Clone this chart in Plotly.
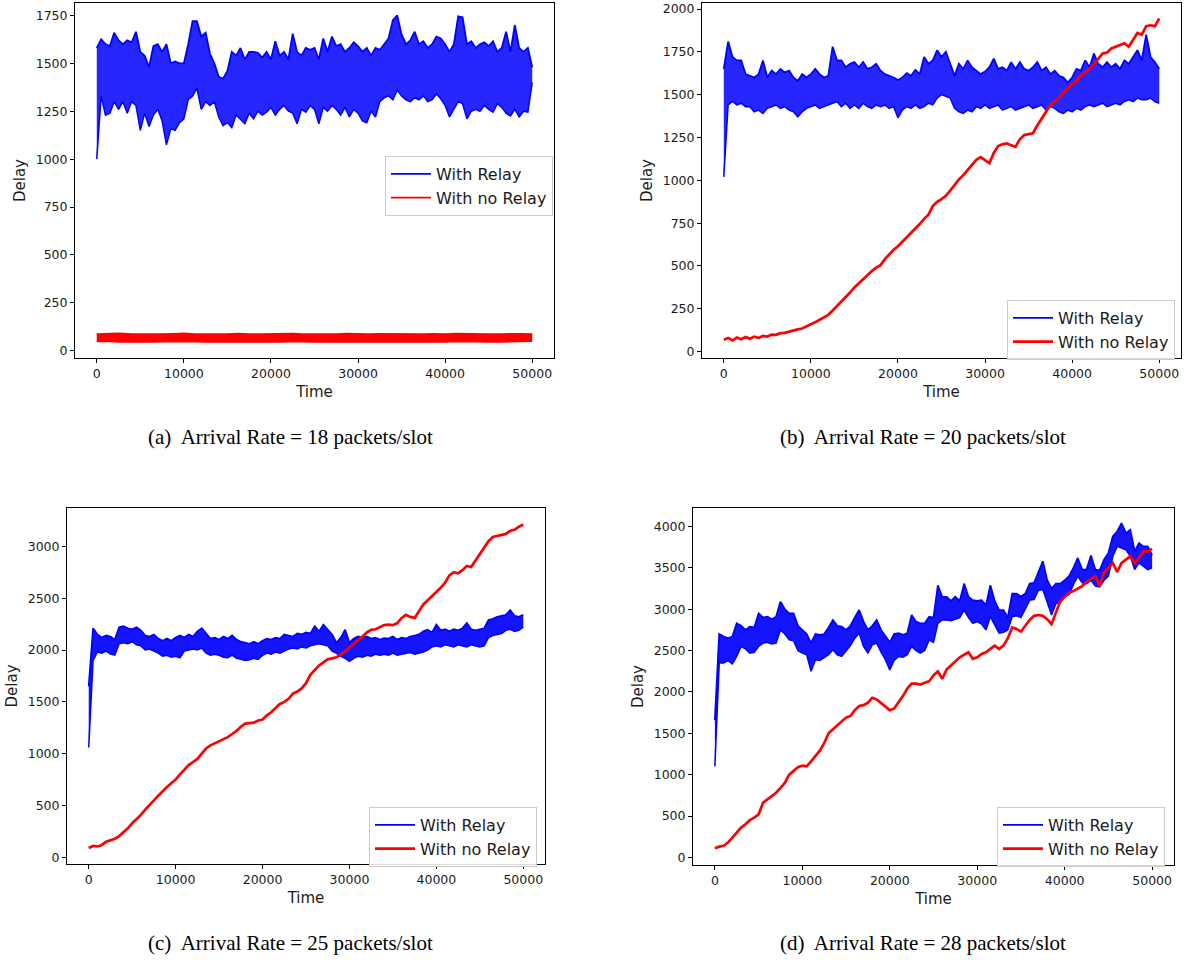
import numpy as np
import plotly.graph_objects as go

# ---------------- data ----------------
T_MAX = 50000
LEGEND_NAMES = ["With Relay", "With no Relay"]
CAPTIONS = ["(a)&nbsp; Arrival Rate = 18 packets/slot",
            "(b)&nbsp; Arrival Rate = 20 packets/slot",
            "(c)&nbsp; Arrival Rate = 25 packets/slot",
            "(d)&nbsp; Arrival Rate = 28 packets/slot"]
X_TICKS = [0, 10000, 20000, 30000, 40000, 50000]
Y_TICKS_A = [0, 250, 500, 750, 1000, 1250, 1500, 1750]
Y_TICKS_B = [0, 250, 500, 750, 1000, 1250, 1500, 1750, 2000]
Y_TICKS_C = [0, 500, 1000, 1500, 2000, 2500, 3000]
Y_TICKS_D = [0, 500, 1000, 1500, 2000, 2500, 3000, 3500, 4000]

# "With Relay": upper / lower envelope of the noisy trace, one value every 500 slots
relay_a_hi = [1580, 1625, 1600, 1590, 1660, 1620, 1600, 1620, 1610, 1665,
              1560, 1540, 1480, 1590, 1600, 1560, 1600, 1500, 1510, 1500,
              1500, 1600, 1720, 1720, 1640, 1660, 1550, 1500, 1430, 1420,
              1460, 1560, 1540, 1580, 1520, 1560, 1560, 1555, 1530, 1560,
              1520, 1615, 1540, 1560, 1520, 1655, 1560, 1540, 1580, 1570,
              1580, 1520, 1630, 1560, 1640, 1590, 1600, 1560, 1580, 1610,
              1590, 1560, 1580, 1540, 1580, 1570, 1600, 1630, 1725, 1750,
              1650, 1600, 1620, 1665, 1600, 1615, 1580, 1600, 1640, 1630,
              1600, 1560, 1600, 1745, 1740, 1600, 1615, 1580, 1600, 1610,
              1590, 1615, 1560, 1580, 1665, 1560, 1700, 1580, 1560, 1580,
              1480]
relay_a_lo = [1000, 1330, 1230, 1240, 1300, 1260, 1300, 1240, 1300, 1280,
              1150, 1240, 1170, 1230, 1260, 1200, 1075, 1160, 1150, 1190,
              1210, 1310, 1330, 1370, 1260, 1300, 1280, 1300, 1220, 1175,
              1190, 1165, 1230, 1210, 1185, 1240, 1210, 1250, 1230, 1245,
              1270, 1230, 1260, 1280, 1250, 1240, 1185, 1260, 1245, 1280,
              1260, 1185, 1270, 1250, 1280, 1260, 1230, 1270, 1220, 1260,
              1240, 1200, 1190, 1250, 1220, 1300, 1320, 1330, 1310, 1360,
              1330, 1310, 1300, 1320, 1310, 1330, 1300, 1310, 1340, 1315,
              1280, 1220, 1260, 1300, 1290, 1210, 1250, 1260, 1250, 1280,
              1260, 1245, 1290, 1270, 1240, 1225, 1260, 1220, 1250, 1245,
              1400]

relay_b_hi = [1650, 1810, 1720, 1700, 1700, 1620, 1610, 1600, 1620, 1700,
              1600, 1640, 1620, 1650, 1630, 1640, 1600, 1580, 1620, 1600,
              1620, 1650, 1620, 1600, 1610, 1780, 1700, 1700, 1660, 1680,
              1690, 1660, 1690, 1650, 1660, 1680, 1640, 1620, 1610, 1600,
              1585, 1600, 1625, 1610, 1645, 1620, 1720, 1680, 1700, 1760,
              1720, 1750, 1680, 1610, 1680, 1650, 1700, 1660, 1640, 1620,
              1635, 1660, 1710, 1650, 1660, 1640, 1690, 1650, 1690, 1650,
              1640, 1660, 1690, 1640, 1660, 1620, 1640, 1610, 1600, 1570,
              1600, 1650, 1640, 1700, 1660, 1740, 1680, 1660, 1690, 1660,
              1680, 1650, 1700, 1680, 1720, 1760, 1700, 1850, 1720, 1690,
              1650]
relay_b_lo = [1020, 1440, 1460, 1440, 1450, 1430, 1430, 1400, 1410, 1390,
              1420, 1430, 1440, 1420, 1430, 1410, 1400, 1370, 1400, 1420,
              1430, 1440, 1420, 1430, 1440, 1450, 1460, 1430, 1450, 1420,
              1440, 1420, 1450, 1430, 1420, 1440, 1430, 1440, 1420, 1430,
              1365, 1410, 1430, 1420, 1440, 1420, 1430, 1450, 1440, 1480,
              1500, 1490, 1480, 1420, 1400, 1390, 1410, 1400, 1430, 1420,
              1440, 1420, 1430, 1440, 1410, 1420, 1430, 1410, 1420, 1430,
              1440, 1420, 1430, 1440, 1410, 1430, 1420, 1400, 1390, 1410,
              1400, 1420, 1410, 1430, 1440, 1430, 1440, 1450, 1430, 1440,
              1450, 1440, 1460, 1470, 1460, 1480, 1470, 1470, 1480, 1460,
              1450]

relay_c_hi = [1650, 2210, 2150, 2120, 2140, 2130, 2100, 2220, 2230, 2210,
              2200, 2220, 2190, 2140, 2130, 2150, 2110, 2090, 2110, 2090,
              2120, 2140, 2120, 2150, 2130, 2180, 2210, 2160, 2110, 2120,
              2100, 2130, 2110, 2140, 2100, 2080, 2070, 2060, 2080, 2060,
              2090, 2110, 2100, 2120, 2110, 2150, 2140, 2130, 2160, 2150,
              2170, 2160, 2230, 2180, 2245, 2200, 2150, 2070, 2120, 2195,
              2070, 2110, 2130, 2120, 2130, 2110, 2120, 2100, 2115, 2110,
              2130, 2100, 2120, 2110, 2130, 2140, 2150, 2180, 2195, 2170,
              2245, 2190, 2200, 2180, 2200, 2190, 2210, 2260, 2200, 2190,
              2200, 2210, 2290, 2300, 2320, 2330, 2340, 2385, 2330, 2320,
              2340]
relay_c_lo = [1060, 1900, 1980, 1970, 1990, 1960, 1950, 2060, 2070, 2060,
              2080, 2050, 2040, 2000, 2010, 1990, 1970, 1940, 1950, 1930,
              1940, 1925, 1990, 2000, 2010, 2000, 2020, 1970, 1950, 1960,
              1950, 1930, 1925, 1950, 1920, 1910, 1900, 1905, 1920, 1910,
              1950, 1970, 1960, 1980, 1970, 1990, 2010, 2020, 2010, 2030,
              2020, 2040, 2050, 2060, 2050, 2040, 1990, 1970, 1940, 1920,
              1890, 1920, 1940, 1930, 1950, 1940, 1960, 1950, 1960, 1950,
              1970, 1950, 1960, 1970, 1975, 1960, 1970, 1980, 2000, 2030,
              2040, 2030, 2050, 2040, 2030, 2050, 2040, 2030, 2050, 2040,
              2030, 2040, 2120, 2140, 2150, 2160, 2190, 2200, 2180, 2190,
              2220]

relay_d_hi = [1660, 2700, 2670, 2650, 2670, 2830, 2800, 2750, 2790, 2780,
              2950, 2900, 2910, 2880, 2910, 3090, 3000, 2950, 2950, 2800,
              2750, 2700, 2590, 2700, 2690, 2700, 2780, 2870, 2800, 2790,
              2750, 2800, 2900, 2990, 2850, 2750, 2800, 2870, 2750, 2670,
              2600, 2700, 2710, 2690, 2710, 2930, 2850, 2830, 2830, 2910,
              2900, 3290, 3150, 3150, 3100, 3150, 3100, 3310, 3150, 3110,
              3100, 3110, 3050, 3290, 3100, 2990, 2990, 2900, 3190, 3190,
              3150, 3190, 3310, 3320, 3450, 3580, 3350, 3250, 3310, 3310,
              3350, 3400, 3500, 3620, 3480, 3480, 3650, 3480, 3470, 3600,
              3680, 3880, 3940, 4040, 3920, 3960, 3700, 3800, 3760, 3760,
              3650]
relay_d_lo = [1100, 2350, 2350, 2380, 2340, 2430, 2550, 2520, 2470, 2480,
              2550, 2590, 2600, 2580, 2590, 2750, 2700, 2630, 2620, 2500,
              2470, 2450, 2250, 2390, 2380, 2420, 2450, 2510, 2450, 2430,
              2500, 2560, 2650, 2710, 2550, 2470, 2570, 2590, 2480, 2390,
              2265, 2380, 2430, 2420, 2450, 2550, 2500, 2470, 2500, 2630,
              2600, 2830, 2870, 2870, 2860, 2880, 2900, 2990, 2900, 2830,
              2850, 2820, 2750, 2910, 2800, 2710, 2720, 2750, 2910, 2920,
              2900, 3000, 3110, 3120, 3230, 3240, 3070, 2930, 3070, 3080,
              3150, 3180, 3300, 3400, 3320, 3310, 3350, 3280, 3270, 3350,
              3400, 3640, 3760, 3740, 3720, 3640, 3480, 3560, 3520, 3480,
              3500]

# "With no Relay", panel (a): upper / lower edge of the thin noisy band (every 1250 slots)
norelay_a_hi = [86, 88, 90, 88, 87, 89, 86, 88, 90, 87, 86, 88, 87, 89, 86, 87, 88, 86, 89, 87,
                86, 88, 87, 89, 87, 86, 88, 87, 89, 86, 87, 88, 86, 89, 87, 88, 86, 87, 89, 88,
                86]
norelay_a_lo = [48, 50, 46, 48, 47, 45, 47, 46, 48, 47, 45, 47, 46, 48, 45, 46, 47, 45, 48, 46,
                45, 47, 46, 48, 46, 45, 47, 46, 48, 45, 46, 47, 45, 48, 46, 47, 45, 46, 48, 47,
                50]

# "With no Relay", panels (b)-(d): one value every 500 slots
norelay_b = [70, 80, 65, 82, 72, 85, 75, 88, 80, 92,
             88, 100, 98, 108, 110, 118, 122, 130, 135, 150,
             160, 172, 185, 200, 215, 240, 265, 295, 320, 345,
             375, 400, 425, 450, 470, 490, 505, 540, 570, 595,
             615, 640, 665, 690, 715, 745, 775, 800, 850, 875,
             890, 910, 940, 975, 1005, 1030, 1060, 1095, 1120, 1135,
             1120, 1100, 1160, 1200, 1210, 1215, 1205, 1195, 1240, 1265,
             1270, 1275, 1320, 1360, 1400, 1440, 1460, 1480, 1510, 1540,
             1560, 1580, 1610, 1630, 1650, 1680, 1710, 1740, 1745, 1770,
             1780, 1790, 1800, 1780, 1820, 1860, 1850, 1900, 1905, 1900,
             1945]

norelay_c = [90, 110, 105, 120, 150, 165, 180, 205, 240, 280,
             330, 370, 410, 460, 510, 550, 595, 640, 680, 715,
             750, 800, 850, 890, 920, 950, 1000, 1050, 1080, 1100,
             1120, 1140, 1160, 1190, 1220, 1260, 1290, 1295, 1300, 1320,
             1330, 1370, 1400, 1440, 1480, 1500, 1530, 1580, 1600, 1630,
             1680, 1760, 1810, 1850, 1880, 1910, 1920, 1930, 1955, 1990,
             2020, 2060, 2090, 2130, 2170, 2195, 2200, 2220, 2240, 2245,
             2240, 2260, 2310, 2340, 2320, 2310, 2380, 2440, 2480, 2520,
             2550, 2600, 2650, 2720, 2750, 2740, 2770, 2810, 2800, 2860,
             2930, 2990, 3050, 3090, 3100, 3110, 3120, 3150, 3160, 3190,
             3210]

norelay_d = [110, 130, 140, 180, 240, 300, 360, 400, 450, 480,
             520, 660, 700, 730, 780, 840, 900, 1000, 1050, 1090,
             1110, 1100, 1160, 1230, 1290, 1380, 1500, 1550, 1600, 1650,
             1690, 1710, 1780, 1830, 1840, 1870, 1930, 1910, 1870, 1820,
             1780, 1800, 1870, 1950, 2040, 2100, 2100, 2090, 2110, 2130,
             2200, 2250, 2160, 2270, 2320, 2370, 2420, 2450, 2480, 2400,
             2420, 2460, 2480, 2520, 2560, 2520, 2560, 2650, 2780, 2760,
             2730, 2800, 2870, 2920, 2930, 2920, 2880, 2820, 2950, 3100,
             3150, 3200, 3220, 3250, 3280, 3330, 3370, 3400, 3280, 3440,
             3500, 3560, 3450, 3560, 3600, 3640, 3560, 3620, 3700, 3700,
             3730]

# ---------------- figure ----------------
W, H = 1184, 960
BLUE, RED = "#0000ff", "#ff0000"
TXT = "#1a1a1a"


def fx(px):
    return px / W


def fy(py):
    return 1 - py / H


panels = [
    dict(hi=relay_a_hi, lo=relay_a_lo, yt=Y_TICKS_A, yr=[-38, 1815], xr=[-2500, 52500],
         px=(75, 554), py=(3, 358), leg=(553, 156), cap=(290, 437), fa=0.85),
    dict(hi=relay_b_hi, lo=relay_b_lo, yt=Y_TICKS_B, yr=[-37, 2035], xr=[-2500, 52500],
         px=(702, 1181), py=(3, 358), leg=(1175, 300), cap=(923, 437), fa=0.85),
    dict(hi=relay_c_hi, lo=relay_c_lo, yt=Y_TICKS_C, yr=[-64, 3370], xr=[-2500, 52500],
         px=(67, 545), py=(508, 864), leg=(537, 807), cap=(290, 943), fa=0.92),
    dict(hi=relay_d_hi, lo=relay_d_lo, yt=Y_TICKS_D, yr=[-92, 4224], xr=[-2500, 52500],
         px=(693, 1174), py=(508, 865), leg=(1165, 807), cap=(923, 943), fa=0.92),
]
norelay_lines = [None, norelay_b, norelay_c, norelay_d]

fig = go.Figure()
layout = dict(width=W, height=H, margin=dict(l=0, r=0, t=0, b=0, autoexpand=False),
              paper_bgcolor="white", plot_bgcolor="white",
              font=dict(family="DejaVu Sans", color=TXT), annotations=[])

for i, p in enumerate(panels):
    k = "" if i == 0 else str(i + 1)
    xa, ya = "x" + k, "y" + k
    leg = "legend" + k
    xe = np.linspace(0, T_MAX, len(p["hi"]))
    fig.add_trace(go.Scatter(x=xe, y=p["hi"], mode="lines", name=LEGEND_NAMES[0],
                             line=dict(color=BLUE, width=1.8), xaxis=xa, yaxis=ya,
                             legend=leg, legendgroup="r" + k))
    fig.add_trace(go.Scatter(x=xe, y=p["lo"], mode="lines", name=LEGEND_NAMES[0],
                             line=dict(color=BLUE, width=1.5), xaxis=xa, yaxis=ya,
                             fill="tonexty", fillcolor="rgba(0,0,255,%.2f)" % p["fa"],
                             showlegend=False, legend=leg, legendgroup="r" + k))
    if i == 0:
        xa_n = np.linspace(0, T_MAX, len(norelay_a_hi))
        fig.add_trace(go.Scatter(x=xa_n, y=norelay_a_hi, mode="lines", name=LEGEND_NAMES[1],
                                 line=dict(color=RED, width=1.8), xaxis=xa, yaxis=ya,
                                 legend=leg, legendgroup="n" + k))
        fig.add_trace(go.Scatter(x=xa_n, y=norelay_a_lo, mode="lines", name=LEGEND_NAMES[1],
                                 line=dict(color=RED, width=1.5), xaxis=xa, yaxis=ya,
                                 fill="tonexty", fillcolor=RED, showlegend=False,
                                 legend=leg, legendgroup="n" + k))
    else:
        yn = norelay_lines[i]
        fig.add_trace(go.Scatter(x=np.linspace(0, T_MAX, len(yn)), y=yn, mode="lines",
                                 name=LEGEND_NAMES[1], line=dict(color=RED, width=2.7),
                                 xaxis=xa, yaxis=ya, legend=leg, legendgroup="n" + k))
    common = dict(showline=True, linecolor="black", linewidth=1, mirror=True,
                  ticks="outside", ticklen=4, tickcolor="black", showgrid=False,
                  zeroline=False, automargin=False, ticklabeloverflow="allow",
                  tickfont=dict(size=12.5, color=TXT))
    layout["xaxis" + k] = dict(common, domain=[fx(p["px"][0]), fx(p["px"][1])],
                               anchor=ya, range=p["xr"], tickvals=X_TICKS,
                               tickformat="d",
                               title=dict(text="Time", font=dict(size=15), standoff=6))
    layout["yaxis" + k] = dict(common, domain=[fy(p["py"][1]), fy(p["py"][0])],
                               anchor=xa, range=p["yr"], tickvals=p["yt"],
                               tickformat="d",
                               title=dict(text="Delay", font=dict(size=15), standoff=6))
    layout[leg] = dict(x=fx(p["leg"][0]), y=fy(p["leg"][1]), xanchor="right",
                       yanchor="top", bgcolor="rgba(255,255,255,0.85)",
                       bordercolor="#cccccc", borderwidth=1, itemwidth=40,
                       font=dict(size=16, color=TXT), tracegroupgap=0)
    layout["annotations"].append(dict(
        text=CAPTIONS[i], x=fx(p["cap"][0]), y=fy(p["cap"][1]), xref="paper",
        yref="paper", showarrow=False, xanchor="center", yanchor="middle",
        font=dict(family="Liberation Serif", size=21, color="black")))

fig.update_layout(**layout)
fig.write_html("out.html", config={"displayModeBar": False},
               post_script="document.body.style.margin='0';"
                           "document.body.style.overflow='hidden';")
